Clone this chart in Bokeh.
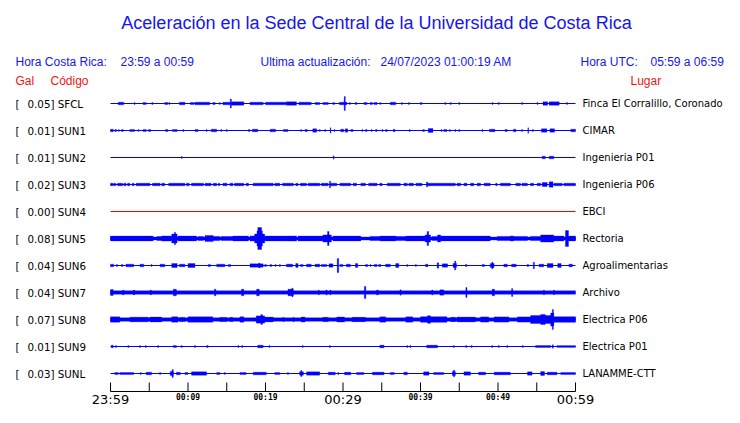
from bokeh.plotting import figure
from bokeh.models import Range1d, ColumnDataSource
from bokeh.core.properties import value
from bokeh.embed import file_html
from bokeh.resources import INLINE

# ---------------- data ----------------
title_text = "Aceleración en la Sede Central de la Universidad de Costa Rica"
hdr_cr = ["Hora Costa Rica:", "23:59 a 00:59"]
hdr_upd = ["Ultima actualización:", "24/07/2023 01:00:19 AM"]
hdr_utc = ["Hora UTC:", "05:59 a 06:59"]
col_heads = ["Gal", "Código", "Lugar"]

codes = ["SFCL", "SUN1", "SUN2", "SUN3", "SUN4", "SUN5", "SUN6", "SUN7", "SUN8", "SUN9", "SUNL"]
gal = [0.05, 0.01, 0.01, 0.02, 0.00, 0.08, 0.04, 0.04, 0.07, 0.01, 0.03]
places = ["Finca El Corralillo, Coronado", "CIMAR", "Ingenieria P01", "Ingenieria P06", "EBCI",
          "Rectoria", "Agroalimentarias", "Archivo", "Electrica P06", "Electrica P01", "LANAMME-CTT"]
trace_colors = ["blue", "blue", "blue", "blue", "red", "blue", "blue", "blue", "blue", "blue", "blue"]

# continuous background amplitude of each trace (trace units)
base_amp = [0, 0, 0, 0, 0, 1.6, 0, 1.8, 1.8, 0, 0]

# bursts: [start minute, end minute, half amplitude]
sfcl = [[1.0, 1.7, 1.3], [4.2, 4.6, 1.0], [7.0, 7.4, 1.0], [8.9, 9.6, 1.3], [10.3, 10.8, 1.0],
        [10.9, 12.8, 1.3], [13.2, 13.5, 1.0], [14.5, 15.5, 1.3], [15.45, 15.6, 4.5], [15.6, 17.2, 1.7],
        [18.0, 19.7, 1.3], [20.0, 22.7, 1.3], [22.7, 24.0, 1.7], [24.3, 25.9, 1.3], [26.4, 27.0, 1.0],
        [27.4, 28.1, 1.0], [28.7, 28.9, 1.0], [29.5, 29.7, 1.0], [29.7, 30.5, 1.3], [30.15, 30.3, 7.0],
        [31.6, 31.8, 1.0], [32.7, 33.1, 1.0], [33.5, 33.8, 1.0], [34.0, 34.4, 1.0], [36.1, 36.8, 1.3],
        [40.0, 40.2, 1.0], [55.8, 56.4, 1.7], [56.6, 57.9, 1.7]]
sun1 = [[0.0, 0.35, 1.3], [0.56, 0.77, 1.0], [1.42, 1.63, 1.0], [2.5, 3.1, 1.0], [4.2, 4.6, 1.0],
        [4.9, 5.2, 1.0], [7.1, 7.4, 1.0], [8.0, 8.6, 1.0], [10.9, 11.3, 1.0], [13.0, 13.7, 1.3],
        [17.8, 18.0, 1.0], [18.3, 19.0, 1.3], [20.6, 21.3, 1.3], [22.3, 22.9, 1.0], [25.1, 25.4, 1.0],
        [26.1, 26.6, 1.7], [28.35, 28.45, 2.7], [29.7, 30.1, 1.3], [30.3, 30.6, 1.7], [31.0, 31.3, 1.0],
        [32.9, 33.1, 1.0], [34.2, 34.4, 1.0], [35.5, 35.7, 1.0], [36.5, 36.7, 1.3], [40.3, 40.5, 1.0],
        [41.0, 41.6, 2.0], [43.0, 43.4, 1.0], [48.9, 49.6, 1.3], [50.9, 51.2, 1.0], [52.0, 52.3, 1.3],
        [53.85, 53.95, 2.7], [55.6, 56.3, 1.7], [56.7, 57.3, 1.7], [59.4, 60.0, 1.3]]
sun2 = [[9.15, 9.25, 1.0], [28.75, 28.85, 1.7], [55.7, 56.1, 1.3], [56.6, 57.2, 1.3]]
sun3 = [[0.0, 0.35, 1.3], [0.43, 0.68, 1.3], [0.9, 1.55, 1.3], [1.7, 2.0, 1.3], [2.2, 2.5, 1.3],
        [2.8, 3.05, 1.3], [3.3, 5.1, 1.3], [5.4, 6.4, 1.3], [6.6, 7.0, 1.3], [7.5, 9.6, 1.3],
        [9.8, 10.15, 1.3], [10.45, 12.0, 1.3], [12.2, 13.0, 1.3], [13.25, 13.7, 1.3], [13.9, 14.1, 1.3],
        [14.5, 15.05, 1.3], [15.4, 15.8, 1.3], [16.0, 17.2, 1.3], [17.5, 17.8, 1.3], [18.4, 21.0, 1.3],
        [21.2, 21.85, 1.3], [22.2, 23.6, 1.3], [23.9, 24.2, 1.3], [24.5, 25.3, 1.3], [25.5, 27.0, 1.3],
        [27.2, 28.1, 1.3], [28.25, 28.4, 3.3], [28.4, 29.2, 1.3], [29.6, 31.0, 1.3], [31.3, 31.75, 1.3],
        [32.3, 32.9, 1.3], [33.3, 34.4, 1.3], [34.75, 35.05, 1.3], [35.7, 37.4, 1.3], [37.85, 38.3, 1.3],
        [38.5, 39.1, 1.3], [39.4, 40.2, 1.3], [40.75, 40.95, 2.3], [40.95, 44.5, 1.3], [44.7, 45.2, 1.3],
        [45.6, 46.0, 1.3], [46.45, 46.9, 1.3], [47.3, 47.75, 1.3], [48.2, 49.0, 1.3], [49.7, 49.9, 1.3],
        [50.3, 51.6, 1.3], [52.3, 52.9, 1.3], [53.1, 53.8, 1.3], [54.2, 54.6, 1.3], [55.05, 55.5, 1.3],
        [55.7, 56.35, 2.0], [56.6, 57.1, 2.7], [57.2, 58.3, 1.3], [58.5, 60.0, 1.3]]
sun4 = []
sun5 = [[0.0, 5.5, 2.4], [6.0, 6.6, 1.9], [6.6, 7.9, 2.6], [7.9, 8.6, 4.5], [8.25, 8.4, 6.3],
        [8.7, 11.1, 2.4], [11.3, 12.0, 1.9], [12.2, 13.25, 3.1], [13.25, 14.1, 2.1], [14.3, 15.8, 1.9],
        [15.8, 17.8, 2.4], [18.0, 18.8, 2.6], [18.6, 19.9, 4.5], [18.9, 19.6, 7.5], [19.0, 19.5, 11.0],
        [19.9, 22.7, 2.4], [22.7, 24.0, 2.6], [24.2, 27.4, 2.4], [27.4, 28.5, 3.6], [28.0, 28.2, 7.0],
        [28.7, 32.3, 2.4], [33.5, 34.8, 2.1], [34.8, 36.8, 2.4], [36.8, 38.1, 2.1], [38.1, 40.6, 2.4],
        [40.6, 41.3, 3.6], [40.85, 41.05, 7.0], [41.5, 42.2, 1.9], [42.2, 42.6, 3.6], [42.6, 49.0, 2.4],
        [49.9, 51.6, 2.1], [51.6, 52.0, 2.6], [52.0, 53.8, 2.1], [54.2, 55.5, 2.1], [55.5, 57.2, 3.6],
        [57.2, 58.5, 2.4], [58.7, 59.1, 8.0], [59.1, 60.0, 2.4]]
sun6 = [[0.0, 0.4, 1.3], [0.75, 0.9, 1.0], [1.4, 1.6, 1.0], [2.0, 3.0, 1.3], [3.8, 4.3, 1.3],
        [6.4, 7.0, 1.3], [7.9, 8.6, 2.0], [8.9, 9.6, 1.3], [10.0, 10.9, 2.0], [12.6, 12.9, 1.0],
        [13.7, 14.75, 1.3], [15.2, 15.5, 1.0], [18.0, 19.7, 1.7], [19.1, 19.3, 2.3], [19.9, 20.1, 1.0],
        [20.6, 20.8, 1.0], [22.7, 23.5, 1.3], [23.9, 24.2, 2.0], [24.5, 24.85, 1.0], [25.3, 25.9, 1.3],
        [26.4, 27.0, 1.3], [27.2, 27.9, 1.0], [28.2, 28.7, 1.7], [29.25, 29.45, 7.0], [29.6, 30.0, 1.0],
        [30.45, 30.95, 1.3], [31.6, 31.9, 2.0], [32.9, 33.2, 1.0], [34.0, 34.4, 1.0], [34.6, 34.9, 1.0],
        [35.5, 36.1, 1.3], [36.8, 37.2, 2.0], [40.65, 40.95, 1.3], [42.15, 42.35, 2.7], [42.8, 43.5, 1.7],
        [44.2, 44.65, 2.0], [44.4, 44.55, 4.5], [45.8, 46.0, 1.0], [47.95, 48.25, 1.0], [49.0, 49.5, 2.0],
        [49.2, 49.35, 3.3], [50.75, 51.2, 1.3], [51.75, 52.35, 1.3], [53.75, 53.95, 1.0], [54.55, 54.7, 3.3],
        [55.3, 55.9, 1.3], [56.35, 57.1, 2.0], [57.7, 58.15, 2.0], [59.15, 59.6, 1.3]]
sun7 = [[0.0, 0.35, 3.0], [1.55, 1.75, 2.3], [2.9, 3.15, 2.2], [5.1, 5.3, 2.3], [8.1, 8.5, 3.3],
        [13.4, 13.6, 3.3], [16.9, 17.2, 3.3], [18.85, 19.2, 3.3], [22.9, 23.6, 3.3], [23.4, 23.55, 4.3],
        [26.8, 26.95, 2.3], [27.8, 27.95, 2.5], [28.3, 28.45, 2.3], [32.75, 32.95, 6.0], [34.3, 34.6, 2.3],
        [37.35, 37.5, 2.7], [41.45, 41.6, 2.5], [42.5, 43.0, 2.7], [45.85, 46.0, 5.0], [49.25, 49.55, 3.3],
        [51.75, 51.9, 4.0], [55.85, 56.0, 2.3], [57.15, 57.3, 2.2]]
sun8 = [[0.0, 1.2, 2.7], [2.5, 4.9, 2.3], [5.1, 6.6, 2.4], [7.9, 8.7, 2.7], [8.9, 9.6, 2.1],
        [10.0, 13.2, 2.7], [14.1, 15.0, 2.1], [15.4, 15.8, 2.1], [16.7, 17.2, 2.7], [18.8, 19.9, 3.6],
        [19.4, 19.6, 5.0], [19.9, 21.0, 2.4], [22.25, 22.35, 2.2], [23.55, 23.65, 2.2], [24.6, 25.1, 2.5],
        [27.4, 28.1, 2.1], [29.2, 30.2, 2.5], [31.2, 32.9, 2.2], [34.75, 35.5, 2.7], [38.1, 39.0, 2.7],
        [40.0, 43.4, 2.8], [40.9, 41.3, 3.8], [43.9, 44.5, 2.2], [44.7, 47.1, 2.4], [47.75, 48.8, 2.6],
        [49.5, 51.4, 2.6], [52.5, 54.2, 2.6], [54.2, 57.0, 4.0], [55.5, 56.1, 5.0], [56.8, 57.2, 6.5],
        [57.0, 57.15, 10.0], [57.2, 60.0, 2.8]]
sun9 = [[0.1, 0.35, 1.3], [8.1, 8.5, 1.0], [12.4, 12.6, 1.0], [19.0, 19.7, 1.3], [34.75, 35.3, 1.3],
        [40.8, 42.2, 1.3], [54.85, 56.8, 1.0], [57.0, 57.15, 1.7], [57.6, 60.0, 0.9]]
sunl = [[0.55, 1.0, 1.0], [1.2, 3.0, 1.0], [4.6, 5.3, 1.3], [7.7, 8.1, 2.0], [7.95, 8.1, 4.0],
        [8.5, 9.0, 1.3], [9.6, 10.0, 1.0], [10.45, 12.4, 1.7], [13.7, 14.1, 1.0], [16.7, 17.5, 1.0],
        [18.4, 20.1, 1.3], [21.2, 21.85, 1.0], [24.4, 24.9, 1.7], [24.55, 24.7, 3.0], [25.3, 27.0, 1.7],
        [28.1, 29.0, 1.3], [30.2, 31.0, 1.3], [31.75, 32.7, 1.0], [33.8, 35.3, 1.3], [36.1, 36.6, 1.0],
        [37.85, 38.3, 1.3], [40.4, 41.1, 1.7], [41.7, 43.0, 1.0], [44.1, 44.5, 2.0], [44.25, 44.4, 3.3],
        [45.6, 46.45, 1.7], [47.5, 48.4, 1.3], [49.5, 51.6, 1.3], [53.8, 54.4, 1.7], [55.5, 56.0, 2.0],
        [56.35, 57.6, 1.3], [58.1, 60.0, 1.0]]

# isolated single spikes (minute)
sfcl_ticks = [3.1, 5.4, 7.6, 14.1, 30.9, 34.8, 37.6, 38.5, 43.2, 43.9, 45.0, 49.3, 50.1, 53.1, 55.1, 58.9]
sun1_ticks = [1.07, 3.6, 9.4, 12.4, 14.3, 15.0, 24.6, 27.0, 27.7, 28.9, 32.5, 33.7, 35.1, 38.6, 42.7,
              43.8, 44.5, 45.0, 48.0, 53.1, 54.5]
sun2_ticks = []
sun3_ticks = []
sun4_ticks = []
sun5_ticks = []
sun6_ticks = [5.3, 21.3, 21.85, 33.55, 38.3, 39.4]
sun7_ticks = []
sun8_ticks = []
sun9_ticks = [0.7, 2.3, 3.8, 4.55, 6.15, 9.2, 10.9, 16.5, 17.0, 20.5, 24.8, 28.3, 38.3, 38.7, 44.3,
              45.9, 46.6, 49.25, 50.1, 51.2, 53.2]
sunl_ticks = [3.9, 6.4, 14.75, 22.9, 29.4]

bursts = [sfcl, sun1, sun2, sun3, sun4, sun5, sun6, sun7, sun8, sun9, sunl]
spikes = [sfcl_ticks, sun1_ticks, sun2_ticks, sun3_ticks, sun4_ticks, sun5_ticks, sun6_ticks,
          sun7_ticks, sun8_ticks, sun9_ticks, sunl_ticks]

tick_minutes = list(range(0, 61, 5))
major_tick_labels = {0: "23:59", 30: "00:29", 60: "00:59"}
minor_tick_labels = {10: "00:09", 20: "00:19", 40: "00:39", 50: "00:49"}

# ---------------- layout ----------------
W, H = 724, 407
X0_PX, PX_PER_MIN = 110, 7.75
ROW0, ROW_STEP = 103, 27
AXIS_Y = 391
SPIKE_AMP = 1.0
SPIKE_W = 0.12
BLUE = "#1515f0"
RED = "#f01515"

p = figure(width=W, height=H, output_backend="svg", toolbar_location=None,
           x_range=Range1d(-X0_PX / PX_PER_MIN, (W - X0_PX) / PX_PER_MIN),
           y_range=Range1d(H, 0),
           x_axis_location=None, y_axis_location=None, min_border=0,
           background_fill_color="white", border_fill_color="white")
p.extra_x_ranges = {"px": Range1d(0, W)}
p.grid.visible = False
p.outline_line_color = None

# traces
ql, qr, qb, qt, qc = [], [], [], [], []
for i, code in enumerate(codes):
    yc = ROW0 + ROW_STEP * i
    col = trace_colors[i]
    if base_amp[i] > 0:
        ql.append(0); qr.append(60); qb.append(yc - base_amp[i]); qt.append(yc + base_amp[i]); qc.append(col)
    for t0, t1, a in bursts[i]:
        ql.append(t0); qr.append(t1); qb.append(yc - a); qt.append(yc + a); qc.append(col)
    for t in spikes[i]:
        ql.append(t - SPIKE_W / 2); qr.append(t + SPIKE_W / 2)
        qb.append(yc - SPIKE_AMP); qt.append(yc + SPIKE_AMP); qc.append(col)

ys = [ROW0 + ROW_STEP * i for i in range(len(codes))]
p.segment(x0=[0] * len(codes), x1=[60] * len(codes), y0=ys, y1=ys,
          line_color=trace_colors, line_width=1.2)
p.quad(source=ColumnDataSource(dict(left=ql, right=qr, bottom=qb, top=qt, color=qc)),
       left="left", right="right", bottom="bottom", top="top",
       fill_color="color", line_color="color", line_width=0.3)

# time axis
p.segment(x0=[0], x1=[60], y0=[AXIS_Y], y1=[AXIS_Y], line_color="black", line_width=1)
p.segment(x0=tick_minutes, x1=tick_minutes, y0=[AXIS_Y] * len(tick_minutes),
          y1=[AXIS_Y - 9] * len(tick_minutes), line_color="black", line_width=1)
mk = list(major_tick_labels.keys())
p.text(x=mk, y=[AXIS_Y + 7.5] * len(mk), text=[major_tick_labels[k] for k in mk],
       text_font=value("DejaVu Sans"), text_font_size="13px", text_align="center",
       text_baseline="middle", text_color="black")
nk = list(minor_tick_labels.keys())
p.text(x=nk, y=[AXIS_Y + 6] * len(nk), text=[minor_tick_labels[k] for k in nk],
       text_font=value("DejaVu Sans Mono"), text_font_size="8px", text_font_style="bold",
       text_align="center", text_baseline="middle", text_color="black")

def txt(x, y, s, size, color, font, align="left", style="normal"):
    p.text(x=[x], y=[y], text=[s], x_range_name="px", text_font=value(font),
           text_font_size=size, text_color=color, text_align=align,
           text_baseline="middle", text_font_style=style)

# title & headers
txt(376, 22, title_text, "18px", BLUE, "Liberation Sans", align="center")
txt(15, 61, hdr_cr[0], "12px", BLUE, "Liberation Sans")
txt(120, 61, hdr_cr[1], "12px", BLUE, "Liberation Sans")
txt(260, 61, hdr_upd[0], "12px", BLUE, "Liberation Sans")
txt(380, 61, hdr_upd[1], "12px", BLUE, "Liberation Sans")
txt(580, 61, hdr_utc[0], "12px", BLUE, "Liberation Sans")
txt(650, 61, hdr_utc[1], "12px", BLUE, "Liberation Sans")
txt(15, 80, col_heads[0], "12px", RED, "Liberation Sans")
txt(50, 80, col_heads[1], "12px", RED, "Liberation Sans")
txt(630, 80, col_heads[2], "12px", RED, "Liberation Sans")

# station labels
p.text(x=[15] * len(codes), y=ys, text=["["] * len(codes), x_range_name="px",
       text_font=value("DejaVu Sans"), text_font_size="10.3px", text_color="black",
       text_baseline="middle")
p.text(x=[27] * len(codes), y=ys, text=[f"{g:.2f}] {c}" for g, c in zip(gal, codes)],
       x_range_name="px", text_font=value("DejaVu Sans"), text_font_size="10.3px",
       text_color="black", text_baseline="middle")
p.text(x=[582] * len(codes), y=ys, text=places, x_range_name="px",
       text_font=value("DejaVu Sans"), text_font_size="10px", text_color="black",
       text_baseline="middle")

open("out.html", "w").write(file_html(p, INLINE))
